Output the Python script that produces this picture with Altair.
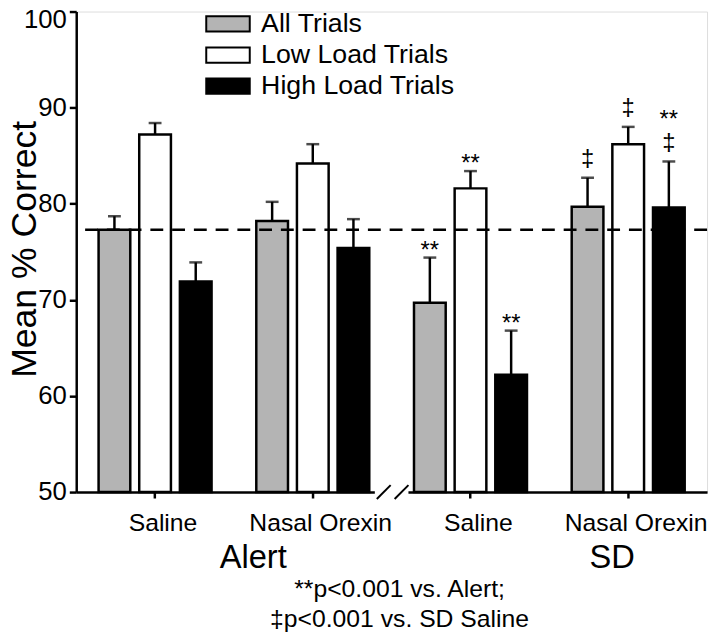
import altair as alt
import pandas as pd

FONT = "Liberation Sans"

# ---------------- data ----------------
groups = ["Alert|Saline", "Alert|Nasal Orexin", "SD|Saline", "SD|Nasal Orexin"]
trial_types = ["All Trials", "Low Load Trials", "High Load Trials"]
trial_colors = ["#b4b4b4", "#ffffff", "#000000"]

mean_all = [77.3, 78.2, 69.7, 79.7]
mean_low = [87.2, 84.2, 81.6, 86.2]
mean_high = [71.9, 75.4, 62.2, 79.6]
sem_all = [1.4, 2.0, 4.7, 3.0]
sem_low = [1.2, 2.0, 1.8, 1.8]
sem_high = [2.0, 3.0, 4.6, 4.8]

star_groups = ["SD|Saline", "SD|Saline", "SD|Saline", "SD|Nasal Orexin"]
star_trials = ["All Trials", "Low Load Trials", "High Load Trials", "High Load Trials"]
dagger_groups = ["SD|Nasal Orexin", "SD|Nasal Orexin", "SD|Nasal Orexin"]
dagger_trials = ["All Trials", "Low Load Trials", "High Load Trials"]

condition_titles = ["Alert", "SD"]
footnote_lines = ["**p<0.001 vs. Alert;", "\u2021p<0.001 vs. SD Saline"]

# ---------------- tables ----------------
rows = []
for t, ms, ss in zip(trial_types, [mean_all, mean_low, mean_high], [sem_all, sem_low, sem_high]):
    for g, m, s in zip(groups, ms, ss):
        rows.append({"group": g, "trial": t, "mean": m, "upper": m + s})
df = pd.DataFrame(rows)

upper_of = {(r["group"], r["trial"]): r["upper"] for r in rows}
dagger_keys = set(zip(dagger_groups, dagger_trials))
stars = pd.DataFrame([
    {"group": g, "trial": t, "upper": upper_of[(g, t)], "stacked": (g, t) in dagger_keys, "sym": "**"}
    for g, t in zip(star_groups, star_trials)
])
daggers = pd.DataFrame([
    {"group": g, "trial": t, "upper": upper_of[(g, t)], "sym": "\u2021"}
    for g, t in zip(dagger_groups, dagger_trials)
])
ref_df = pd.DataFrame({"upper": [mean_all[0]]})
foot_df = pd.DataFrame({"note": ["\n".join(footnote_lines)]})

# ---------------- shared encodings ----------------
x_scale = alt.Scale(domain=groups, paddingInner=0, paddingOuter=0)
x_axis = alt.Axis(
    title=None, labelExpr="split(datum.label, '|')[1]", labelFontSize=25,
    labelPadding=13, labelOffset=8, tickSize=6, labelAngle=0, grid=False,
    domain=True, ticks=True, domainColor="black", tickColor="black",
    domainWidth=2.5, tickWidth=2.5, labelColor="black", labelFont=FONT,
)
xo_scale = alt.Scale(domain=trial_types, paddingInner=0.22, paddingOuter=0.55)
y_scale = alt.Scale(domain=[50, 100], zero=False, nice=False)
y_axis = alt.Axis(
    title="Mean % Correct", values=[50, 60, 70, 80, 90, 100], tickSize=7, grid=False,
    domain=True, ticks=True, domainColor="black", tickColor="black",
    domainWidth=2.5, tickWidth=2.5, labelColor="black", labelFont=FONT,
    titleColor="black", titleFont=FONT,
    labelPadding=3, labelFontSize=26, titleFontSize=36, titleFontWeight="normal",
    titleX=-41, titleY=240, titleAngle=270, titleBaseline="alphabetic", titleAlign="center",
    labelOffset={"condition": {"test": "datum.value == 100", "value": 8}, "value": 0},
)


def X(field="group"):
    return alt.X(f"{field}:N", scale=x_scale, axis=x_axis)


def XO():
    return alt.XOffset("trial:N", scale=xo_scale)


def Y(field):
    return alt.Y(f"{field}:Q", scale=y_scale, axis=y_axis)


bars = alt.Chart(df).mark_bar(stroke="black", strokeWidth=2.5).encode(
    x=X(), xOffset=XO(), y=Y("mean"), y2=alt.datum(50),
    color=alt.Color(
        "trial:N",
        scale=alt.Scale(domain=trial_types, range=trial_colors),
        legend=alt.Legend(
            orient="none", legendX=140, legendY=-1, title=None, padding=0,
            symbolType="M-2,-0.704L2,-0.704L2,0.704L-2,0.704Z", symbolSize=484,
            symbolStrokeColor="black", symbolStrokeWidth=2, symbolOpacity=1,
            labelFontSize=27, labelFont=FONT, labelColor="black", labelOffset=20,
            rowPadding=3.5, labelLimit=400,
        ),
    ),
)

err = alt.Chart(df).mark_rule(color="black", strokeWidth=2.5).encode(
    x=X(), xOffset=XO(), y=Y("mean"), y2="upper:Q"
)
caps = alt.Chart(df).mark_tick(color="black", thickness=2.5, size=13, orient="horizontal").encode(
    x=X(), xOffset=XO(), y=Y("upper")
)

ref_line = alt.Chart(ref_df).mark_rule(color="black", strokeWidth=2.5, strokeDash=[13, 9]).encode(
    y=Y("upper")
)

star_txt = alt.Chart(stars).transform_filter("!datum.stacked").mark_text(
    font=FONT, fontSize=24, baseline="alphabetic", dy=0, color="black"
).encode(x=X(), xOffset=XO(), y=Y("upper"), text="sym:N")
star_top = alt.Chart(stars).transform_filter("datum.stacked").mark_text(
    font=FONT, fontSize=24, baseline="alphabetic", dy=-35, color="black"
).encode(x=X(), xOffset=XO(), y=Y("upper"), text="sym:N")
dag_txt = alt.Chart(daggers).mark_text(
    font=FONT, fontSize=24, baseline="alphabetic", dy=-12, color="black"
).encode(x=X(), xOffset=XO(), y=Y("upper"), text="sym:N")

# axis break "//"
brk_df = pd.DataFrame({"group": ["SD|Saline"], "upper": [50]})
gap = alt.Chart(brk_df).mark_point(
    shape="M-1,0L1,0", size=34 * 34, color="white", strokeWidth=6, filled=False, opacity=1
).encode(x=alt.X("group:N", scale=x_scale, axis=x_axis, bandPosition=0), y=Y("upper"))
slash_l = alt.Chart(brk_df).mark_point(
    shape="M-1,1L1,-1", size=14 * 14, color="black", strokeWidth=2, filled=False, opacity=1
).encode(x=alt.X("group:N", scale=x_scale, axis=x_axis, bandPosition=0), y=Y("upper"),
         xOffset=alt.value(-8))
slash_r = alt.Chart(brk_df).mark_point(
    shape="M-1,1L1,-1", size=14 * 14, color="black", strokeWidth=2, filled=False, opacity=1
).encode(x=alt.X("group:N", scale=x_scale, axis=x_axis, bandPosition=0), y=Y("upper"),
         xOffset=alt.value(10))

# condition titles under the axis
title_x = [179, 542]
cond_layers = []
for name, px in zip(condition_titles, title_x):
    cond_layers.append(
        alt.Chart(pd.DataFrame({"name": [name]})).mark_text(
            font=FONT, fontSize=33, baseline="alphabetic", align="center", color="black"
        ).encode(text="name:N", x=alt.value(px), y=alt.value(563))
    )

foot = alt.Chart(foot_df).mark_text(
    font=FONT, fontSize=25, baseline="alphabetic", align="center", color="black",
    lineBreak="\n", lineHeight=30,
).encode(text="note:N", x=alt.value(327), y=alt.value(592))

chart = alt.layer(
    bars, gap, slash_l, slash_r, ref_line, err, caps, star_txt, star_top, dag_txt, *cond_layers, foot
).properties(
    width=638, height=486,
    autosize=alt.AutoSizeParams(type="none"),
    padding={"left": 69, "top": 0, "right": 5, "bottom": 145},
).configure_view(stroke=None).configure_axis(
    domainColor="black", domainWidth=2.5, tickColor="black", tickWidth=2.5,
    labelColor="black", titleColor="black", labelFont=FONT, titleFont=FONT, grid=False,
).configure(background="white")

chart.save("out.html", embed_options={"renderer": "svg", "actions": False})
